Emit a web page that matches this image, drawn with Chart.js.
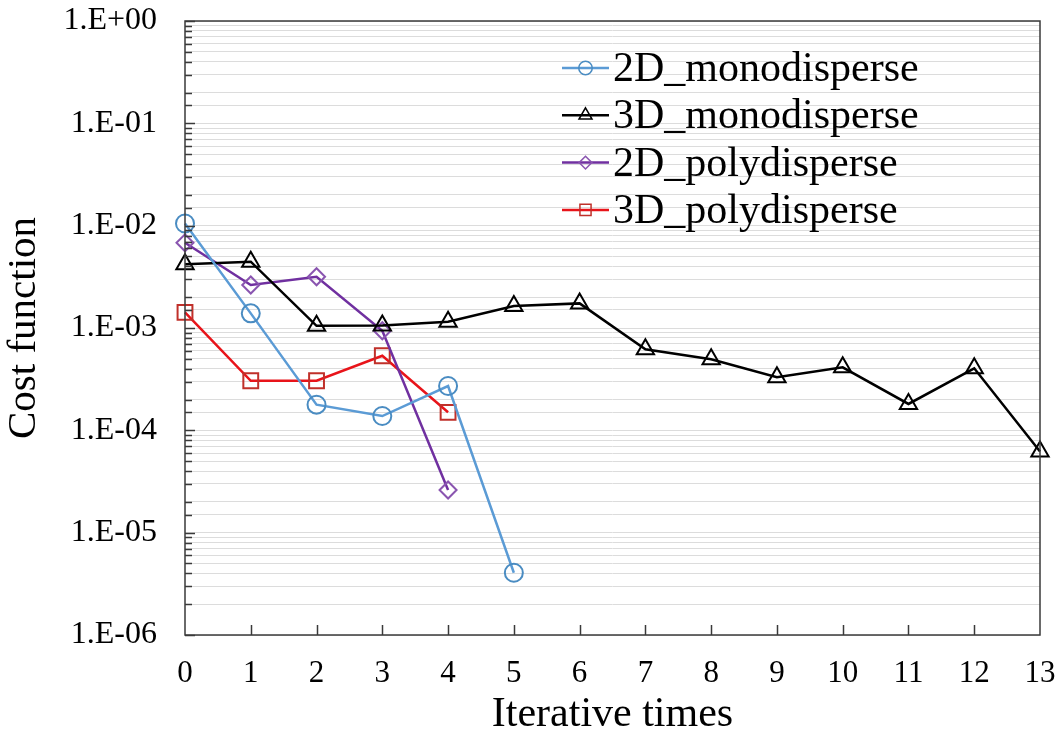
<!DOCTYPE html>
<html>
<head>
<meta charset="utf-8">
<script src="https://cdn.jsdelivr.net/npm/chart.js@4.4.1/dist/chart.umd.min.js"></script>
<style>
  html, body { margin: 0; padding: 0; background: #ffffff; }
  #wrap { width: 1062px; height: 740px; }
</style>
</head>
<body>
<div id="wrap"><canvas id="c" width="1062" height="740"></canvas></div>
<script>
// ---- data ----
const iterations = [0, 1, 2, 3, 4, 5, 6, 7, 8, 9, 10, 11, 12, 13];
const mono2D = [1.05e-2, 1.39e-3, 1.78e-4, 1.38e-4, 2.71e-4, 4.06e-6];
const mono3D = [4.2e-3, 4.45e-3, 1.05e-3, 1.06e-3, 1.15e-3, 1.64e-3, 1.74e-3, 6.2e-4, 4.94e-4, 3.3e-4, 4.13e-4, 1.81e-4, 4.04e-4, 6.2e-5];
const poly2D = [6.8e-3, 2.63e-3, 3.17e-3, 9.4e-4, 2.61e-5];
const poly3D = [1.42e-3, 3.05e-4, 3.05e-4, 5.36e-4, 1.5e-4];
const seriesNames = ['2D_monodisperse', '3D_monodisperse', '2D_polydisperse', '3D_polydisperse'];
const xTitle = 'Iterative times';
const yTitle = 'Cost function';
const yMin = 1e-6, yMax = 1;
const xMin = 0, xMax = 13;

const FONT = "'Liberation Serif', 'Times New Roman', serif";

function pts(vals) { return vals.map((v, i) => ({ x: iterations[i], y: v })); }

function fmtLabel(v) {
  const e = Math.round(Math.log10(v));
  if (Math.abs(v / Math.pow(10, e) - 1) > 1e-6) return '';
  const a = Math.abs(e);
  return '1.E' + (e >= 0 ? '+' : '-') + (a < 10 ? '0' + a : '' + a);
}

const styles = [
  { line: '#5b9bd5', mark: '#4a8cc2', pointStyle: 'circle', r: 9 },
  { line: '#000000', mark: '#000000', pointStyle: 'triangle', r: 10 },
  { line: '#7030a0', mark: '#8a55b0', pointStyle: 'rectRot', r: 8.5 },
  { line: '#e8141a', mark: '#c0302a', pointStyle: 'rect', r: 10.5 }
];
const dataArr = [mono2D, mono3D, poly2D, poly3D];

const datasets = dataArr.map((d, i) => ({
  label: seriesNames[i],
  data: pts(d),
  borderColor: styles[i].line,
  borderWidth: 2.5,
  pointStyle: styles[i].pointStyle,
  pointRadius: styles[i].r,
  pointBorderColor: styles[i].mark,
  pointBackgroundColor: 'rgba(0,0,0,0)',
  pointBorderWidth: 2,
  tension: 0,
  fill: false,
  clip: false
}));

const framePlugin = {
  id: 'frame',
  afterDatasetsDraw(chart) {
    const ctx = chart.ctx;
    const a = chart.chartArea;
    const ys = chart.scales.y, xs = chart.scales.x;
    ctx.save();
    ctx.strokeStyle = '#3a3a3a';
    ctx.lineWidth = 1.5;
    ctx.strokeRect(a.left, a.top, a.right - a.left, a.bottom - a.top);
    ys.ticks.forEach(t => {
      const py = ys.getPixelForValue(t.value);
      const major = fmtLabel(t.value) !== '';
      const len = major ? 10 : 7;
      ctx.beginPath();
      ctx.moveTo(a.left, Math.round(py) + 0.5);
      ctx.lineTo(a.left + len, Math.round(py) + 0.5);
      ctx.stroke();
    });
    xs.ticks.forEach(t => {
      if (t.value <= xMin || t.value >= xMax) return;
      const px = xs.getPixelForValue(t.value);
      ctx.beginPath();
      ctx.moveTo(Math.round(px) + 0.5, a.bottom);
      ctx.lineTo(Math.round(px) + 0.5, a.bottom - 10);
      ctx.stroke();
    });
    ctx.restore();
  }
};

const legendPlugin = {
  id: 'customLegend',
  afterDraw(chart) {
    const ctx = chart.ctx;
    const x0 = 562, x1 = 609, tx = 613;
    const y0 = 68, dy = 47.3;
    ctx.save();
    ctx.font = '42px ' + FONT;
    ctx.textBaseline = 'middle';
    ctx.fillStyle = '#000';
    chart.data.datasets.forEach((ds, i) => {
      const y = y0 + i * dy;
      ctx.strokeStyle = ds.borderColor;
      ctx.lineWidth = 2.5;
      ctx.beginPath();
      ctx.moveTo(x0, y); ctx.lineTo(x1, y); ctx.stroke();
      ctx.lineWidth = 1.5;
      ctx.strokeStyle = ds.pointBorderColor;
      ctx.fillStyle = 'rgba(0,0,0,0)';
      Chart.helpers.drawPoint(ctx, { pointStyle: ds.pointStyle, radius: ds.pointRadius * 0.75, borderWidth: 1.5 }, (x0 + x1) / 2, y);
      ctx.fillStyle = '#000';
      ctx.fillText(ds.label, tx, y + 2);
    });
    ctx.restore();
  }
};

new Chart(document.getElementById('c'), {
  type: 'line',
  data: { datasets },
  options: {
    responsive: false,
    animation: false,
    layout: { padding: { left: 0, top: 21, right: 22, bottom: 0 } },
    plugins: { legend: { display: false }, tooltip: { enabled: false } },
    scales: {
      x: {
        type: 'linear',
        min: xMin, max: xMax,
        grid: { display: false, drawTicks: false },
        border: { display: false },
        ticks: { stepSize: 1, color: '#000', font: { family: FONT, size: 31 }, padding: 20, maxRotation: 0, autoSkip: false },
        title: { display: true, text: xTitle, color: '#000', font: { family: FONT, size: 42 }, padding: { top: 0, bottom: 0 } },
        afterFit(s) { s.height = 105; s.paddingLeft = 0; s.paddingRight = 0; }
      },
      y: {
        type: 'logarithmic',
        min: yMin, max: yMax,
        grid: { color: '#dcdcdc', lineWidth: 1, drawTicks: false },
        border: { display: false },
        ticks: {
          autoSkip: false, color: '#000', padding: 28,
          font: { family: FONT, size: 32 },
          callback: (v) => fmtLabel(v)
        },
        title: { display: true, text: yTitle, color: '#000', font: { family: FONT, size: 41 }, padding: { top: 0, bottom: 0 } },
        afterFit(s) { s.width = 185; s.paddingTop = 0; s.paddingBottom = 0; }
      }
    }
  },
  plugins: [framePlugin, legendPlugin]
});
</script>
</body>
</html>
